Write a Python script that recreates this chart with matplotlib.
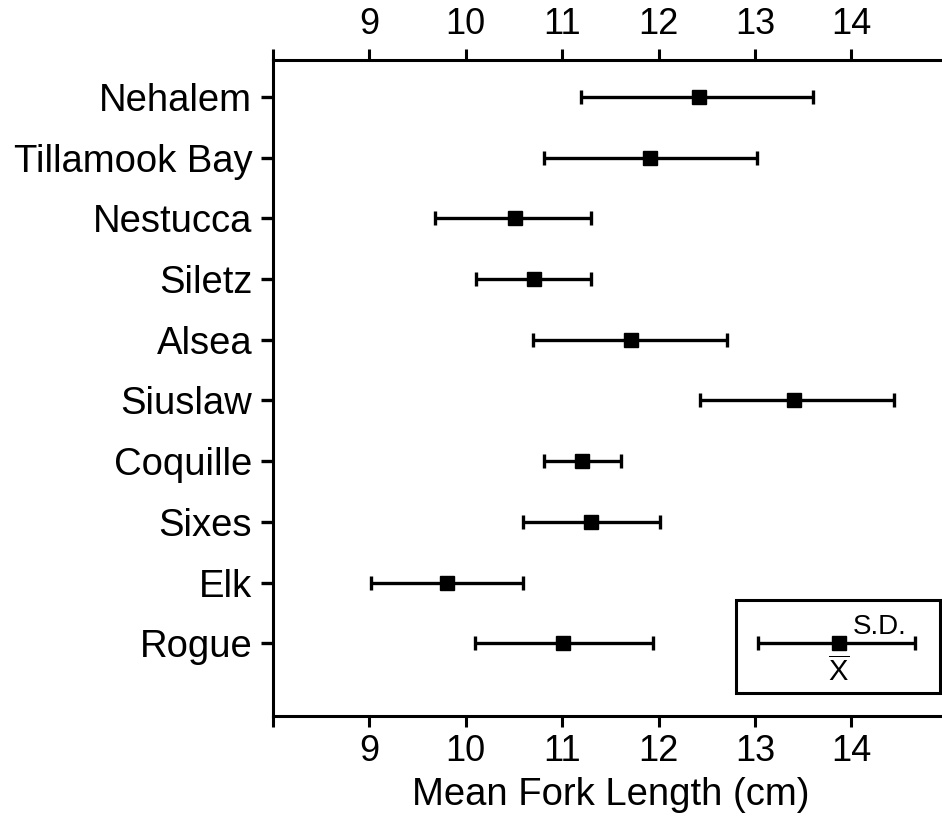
import matplotlib
matplotlib.use("Agg")
import matplotlib.pyplot as plt
from matplotlib.patches import Rectangle

plt.rcParams['font.family'] = ['Liberation Sans', 'DejaVu Sans']
plt.rcParams['mathtext.fontset'] = 'custom'
plt.rcParams['mathtext.rm'] = 'Liberation Sans'

# fork length by river (cm): mean with -/+ one S.D. ends
rivers = ['Nehalem', 'Tillamook Bay', 'Nestucca', 'Siletz', 'Alsea',
          'Siuslaw', 'Coquille', 'Sixes', 'Elk', 'Rogue']
means = [12.42, 11.91, 10.51, 10.71, 11.71, 13.41, 11.21, 11.30, 9.81, 11.01]
lows = [11.20, 10.81, 9.68, 10.11, 10.70, 12.43, 10.81, 10.59, 9.02, 10.10]
highs = [13.60, 13.02, 11.30, 11.30, 12.71, 14.44, 11.61, 12.01, 10.59, 11.94]

# key sample in the lower right box
key_mean = 13.87
key_low = 13.03
key_high = 14.66

xticks = [8, 9, 10, 11, 12, 13, 14]
xticklabels = ['', '9', '10', '11', '12', '13', '14']

fig = plt.figure(figsize=(9.42, 8.16), dpi=100)
ax = fig.add_axes([0.2898, 0.1225, 0.7163, 0.8039])

ypos = list(range(len(rivers)))
err = [[m - lo for m, lo in zip(means, lows)], [hi - m for m, hi in zip(means, highs)]]
ax.errorbar(means, ypos, xerr=err, fmt='s', color='black', ms=10.5,
            elinewidth=2.4, capsize=4.8, capthick=2.4)

# key
ky = 9
ax.errorbar([key_mean], [ky], xerr=[[key_mean - key_low], [key_high - key_mean]],
            fmt='s', color='black', ms=10, elinewidth=2.4, capsize=4.8, capthick=2.4)
ax.add_patch(Rectangle((12.80, 8.29), 2.12, 1.53, fill=False, lw=2.2,
                       edgecolor='black', clip_on=False))
ax.text(14.29, 8.74, 'S.D.', fontsize=20, ha='center', va='center')
ax.text(key_mean, 9.48, r'$\overline{\mathrm{X}}$', fontsize=21, ha='center', va='center')

ax.set_xlim(8, 15)
ax.set_ylim(10.2, -0.61)
ax.set_yticks(ypos)
ax.set_yticklabels(rivers, fontsize=27.5)
ax.set_xticks(xticks)
ax.set_xticklabels(xticklabels, fontsize=26)
ax.tick_params(axis='x', top=True, labeltop=True, direction='out', length=8, width=2.2, pad=5)
ax.tick_params(axis='y', direction='out', length=9, width=2.4, pad=6)
ax.set_xlabel('Mean Fork Length (cm)', fontsize=27.5, labelpad=6)

ax.spines['right'].set_visible(False)
for s in ['left', 'top', 'bottom']:
    ax.spines[s].set_linewidth(2.2)

fig.savefig('out.png', dpi=100)
